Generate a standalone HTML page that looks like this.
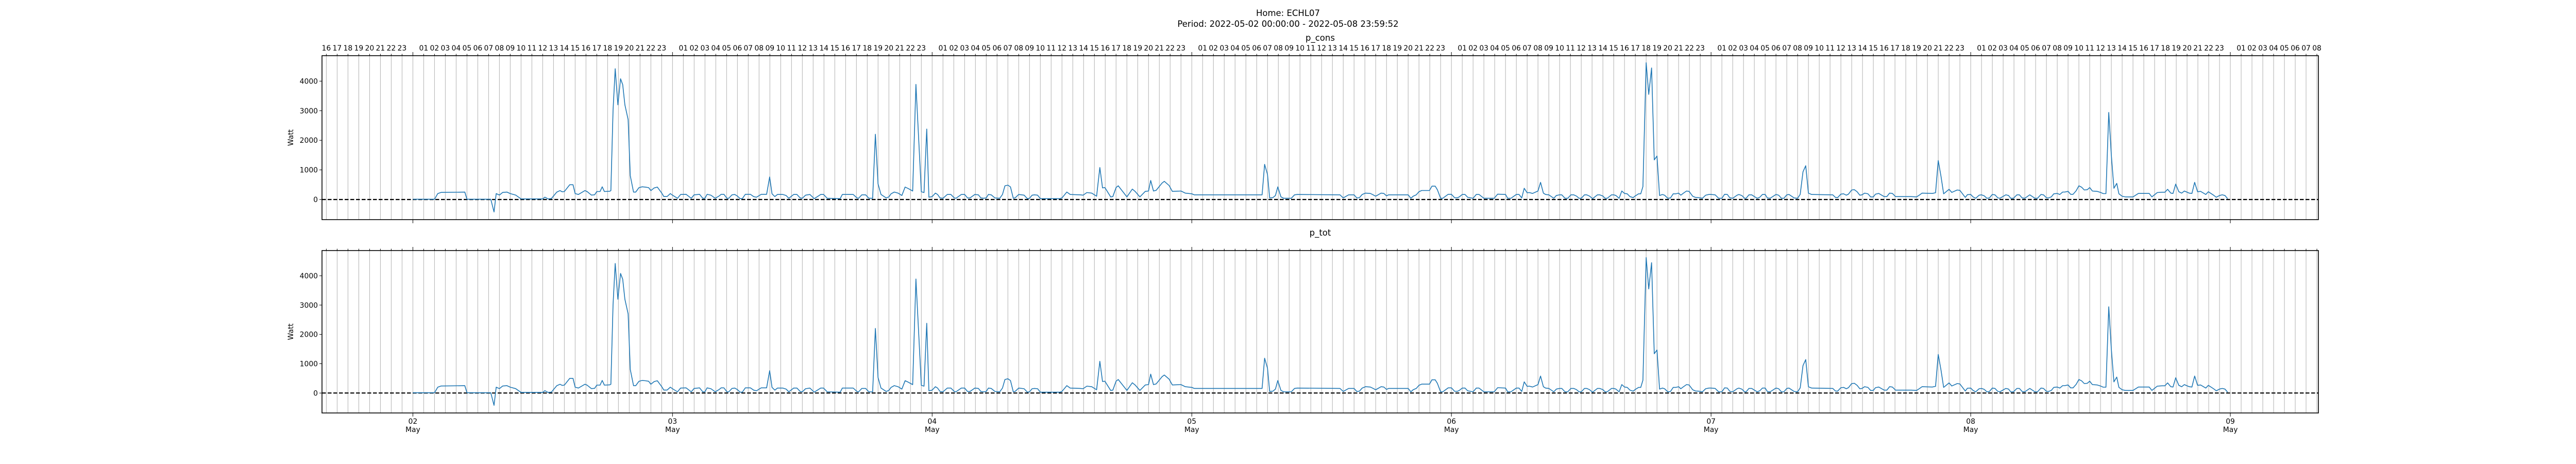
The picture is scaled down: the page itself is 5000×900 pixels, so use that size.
<!DOCTYPE html>
<html><head><meta charset="utf-8">
<style>
html,body{margin:0;padding:0;background:#fff;}
svg{display:block;font-family:"DejaVu Sans","Liberation Sans",sans-serif;}
</style></head>
<body>
<svg id="chart" width="5000" height="900" viewBox="0 0 5000 900" xmlns="http://www.w3.org/2000/svg">
<rect width="5000" height="900" fill="#fff"/>
<text x="2500" y="31" text-anchor="middle" font-size="16.5">Home: ECHL07</text>
<text x="2500" y="52" text-anchor="middle" font-size="16.5">Period: 2022-05-02 00:00:00 - 2022-05-08 23:59:52</text>
<g id="panels"></g>
</svg>
<script>
// data: [hour-of-day, watts] per day (02..08 May 2022)
const dayLabels = ["02","03","04","05","06","07","08","09"];
const yTicks = [0,1000,2000,3000,4000];
const panelTitles = ["p_cons","p_tot"];
const d02 = [[0,10],[2,10],[2.3,200],[2.6,240],[4.8,250],[5,10],[7.2,10],[7.5,-420],[7.7,200],[8,150],[8.3,240],[8.7,250],[9,200],[9.5,150],[10,20],[12,20],[12.2,80],[12.5,20],[12.8,30],[13.3,250],[13.6,300],[13.8,260],[14,270],[14.5,500],[14.8,500],[15,200],[15.3,170],[15.9,300],[16.1,270],[16.5,150],[16.8,160],[17,270],[17.3,270],[17.5,430],[17.7,270],[18.2,280],[18.3,300],[18.5,3000],[18.7,4420],[18.95,3200],[19.2,4080],[19.4,3880],[19.6,3200],[19.9,2700],[20.1,800],[20.4,250],[20.6,250],[20.9,400],[21.2,430],[21.5,420],[21.8,400],[22,300],[22.3,390],[22.6,420],[23,220],[23.2,100],[23.5,100],[23.8,200]];
const d03 = [[0,146],[0.46,41],[0.75,170],[1.25,176],[1.73,41],[2,158],[2.5,176],[2.8,41],[3,41],[3.2,176],[3.55,146],[3.95,41],[4.3,117],[4.5,176],[4.75,176],[5.03,41],[5.2,41],[5.5,158],[5.75,170],[6,117],[6.25,29],[6.45,29],[6.73,176],[7.2,176],[7.5,99],[7.76,76],[8.2,176],[8.7,176],[8.98,760],[9.2,193],[9.46,99],[9.7,170],[10.2,170],[10.5,135],[10.75,41],[11.2,170],[11.5,170],[11.8,53],[12,41],[12.3,146],[12.7,170],[13.1,29],[13.4,99],[13.7,170],[13.96,170],[14.3,41],[15.5,29],[15.7,170],[16.7,170],[17.05,53],[17.2,41],[17.5,158],[17.85,158],[18.15,41],[18.5,41],[18.75,2205],[19,527],[19.27,170],[19.75,53],[20,88],[20.2,193],[20.5,252],[20.85,216],[21.2,135],[21.5,421],[21.8,369],[22.2,287],[22.5,3890],[23,263],[23.25,234],[23.5,2381],[23.7,76]];
const d04 = [[0,99],[0.3,216],[0.5,170],[0.73,53],[1,41],[1.4,170],[1.73,170],[2.05,53],[2.2,41],[2.7,170],[3,170],[3.27,53],[3.5,53],[3.95,170],[4.27,158],[4.5,53],[4.75,41],[5,53],[5.2,170],[5.46,158],[5.8,53],[6.25,41],[6.5,170],[6.73,462],[7,486],[7.24,427],[7.5,41],[7.68,59],[8,170],[8.5,146],[8.8,29],[9,41],[9.24,146],[9.46,158],[9.75,146],[10,29],[11.8,29],[12,53],[12.45,252],[12.76,170],[13.7,158],[13.95,146],[14.3,234],[14.75,216],[15.2,111],[15.5,1082],[15.75,392],[15.97,404],[16.5,88],[16.7,99],[17,404],[17.2,462],[18,88],[18.5,351],[18.76,275],[19.2,88],[19.7,275],[20,287],[20.2,644],[20.46,287],[20.7,310],[21.25,556],[21.46,614],[21.9,474],[22.2,275],[23,287],[23.4,216]];
const d05 = [[0,193],[0.22,158],[6.5,158],[6.73,1188],[7,848],[7.2,53],[7.5,64],[7.73,135],[7.95,427],[8.24,88],[8.5,41],[9.2,41],[9.5,158],[9.75,170],[13.7,158],[14,53],[14.5,158],[15,158],[15.25,53],[15.5,64],[15.75,170],[16.05,216],[16.5,205],[16.7,170],[17,111],[17.5,216],[17.75,205],[18,123],[18.2,158],[20,158],[20.25,41],[20.46,111],[20.75,158],[21,263],[21.25,304],[21.97,304],[22.2,450],[22.5,450],[22.7,333],[23,41],[23.2,41],[23.7,176]];
const d06 = [[0,176],[0.3,59],[0.55,59],[0.73,88],[1,170],[1.25,170],[1.5,76],[2,41],[2.3,170],[2.55,170],[3,41],[3.95,41],[4.27,181],[5,170],[5.2,41],[5.5,41],[6,170],[6.25,170],[6.5,53],[6.73,380],[7,228],[7.2,234],[7.5,205],[8,287],[8.24,579],[8.5,216],[8.7,170],[9,158],[9.46,41],[9.7,135],[10,158],[10.2,158],[10.5,41],[10.75,41],[11.05,158],[11.3,158],[11.56,117],[11.8,41],[12,41],[12.3,158],[12.5,158],[12.76,117],[13.05,29],[13.5,158],[13.7,158],[14,117],[14.2,41],[14.4,41],[14.8,158],[15,158],[15.2,135],[15.5,41],[15.75,287],[16,205],[16.25,193],[16.5,99],[16.8,64],[17,123],[17.3,193],[17.5,193],[17.7,439],[18,4622],[18.24,3551],[18.5,4446],[18.75,1340],[19,1468],[19.24,135],[19.5,170],[19.7,146],[20,41],[20.25,53],[20.5,193],[20.75,193],[21,216],[21.2,146],[21.45,216],[21.73,287],[21.97,275],[22.3,111],[22.56,70],[22.84,64],[23.2,41],[23.5,146],[23.8,170]];
const d07 = [[0,170],[0.38,158],[0.7,41],[1,41],[1.25,176],[1.5,170],[1.73,59],[2,41],[2.4,146],[2.57,170],[2.84,135],[3.1,41],[3.24,41],[3.5,158],[3.76,158],[4,99],[4.27,41],[4.5,76],[4.75,170],[5,170],[5.2,53],[5.46,41],[6,170],[6.25,146],[6.5,41],[6.73,41],[7,158],[7.2,170],[7.68,53],[8,41],[8.24,176],[8.5,936],[8.75,1141],[9,216],[9.3,170],[11.25,158],[11.5,70],[11.7,64],[12,181],[12.25,193],[12.5,146],[12.7,181],[13,322],[13.24,333],[13.5,263],[13.75,146],[13.95,158],[14.2,216],[14.5,193],[14.75,88],[15,88],[15.2,181],[15.5,205],[16,99],[16.25,99],[16.5,216],[16.76,205],[17.05,99],[18.5,99],[19,88],[19.24,146],[19.5,216],[20.45,205],[20.75,228],[21,1316],[21.25,790],[21.5,193],[22,345],[22.25,240],[22.75,322],[23,310],[23.5,70],[23.7,164]];
const d08 = [[0,170],[0.22,88],[0.46,41],[0.78,146],[1,158],[1.25,123],[1.5,41],[1.73,53],[2,170],[2.24,158],[2.5,59],[2.7,41],[3.24,158],[3.5,135],[3.7,41],[3.95,41],[4.27,158],[4.5,158],[4.75,53],[5,41],[5.46,158],[5.94,41],[6.17,41],[6.5,170],[6.73,158],[7,59],[7.2,53],[7.45,88],[7.68,193],[8,205],[8.24,170],[8.5,252],[8.7,252],[9,275],[9.24,176],[9.46,176],[9.75,298],[10,462],[10.25,415],[10.5,322],[10.78,333],[11,404],[11.25,287],[11.7,275],[12,240],[12.25,199],[12.5,199],[12.76,2943],[13,1492],[13.24,380],[13.5,544],[13.7,193],[14,111],[14.3,88],[15,88],[15.5,205],[16.5,205],[16.75,88],[17.25,234],[17.7,246],[17.95,246],[18.2,345],[18.5,216],[18.7,205],[18.95,520],[19.24,263],[19.5,216],[19.75,287],[20.2,216],[20.45,205],[20.7,579],[20.97,263],[21.25,275],[21.73,170],[21.97,263],[22.45,146],[22.7,76],[23,135],[23.25,158],[23.5,135],[23.75,29]];
const days = [d02,d03,d04,d05,d06,d07,d08];

const NS = "http://www.w3.org/2000/svg";
const X0 = 625, X1 = 4500;
const hMin = -8.4, hMax = 176.14;
const yMin = -680, yMax = 4860;
const panels = [{top:108,bottom:426,title:panelTitles[0],showHourLabels:true},
                {top:486,bottom:801,title:panelTitles[1],showHourLabels:false}];
function xs(h){ return X0 + (h - hMin) / (hMax - hMin) * (X1 - X0); }
function mk(tag, attrs, parent){ const e=document.createElementNS(NS,tag); for(const k in attrs) e.setAttribute(k, attrs[k]); parent.appendChild(e); return e; }

const series = [];
days.forEach((d,i)=>d.forEach(p=>series.push([i*24+p[0], p[1]])));

const root = document.getElementById('panels');
panels.forEach((P, pi)=>{
  const ys = v => P.bottom - (v - yMin) / (yMax - yMin) * (P.bottom - P.top);
  const g = mk('g', {}, root);
  
  
  // hourly grid
  for(let h=-8; h<=176; h++){
    const x = xs(h);
    const gl = mk('line',{x1:x,x2:x,y1:P.top,y2:P.bottom,stroke:'#b0b0b0','stroke-width':1},g);
    
    
    const isDay = ((h%24)+24)%24===0;
    mk('line',{x1:x,x2:x,y1:P.top,y2:P.top-(isDay?7:3.5),stroke:'#000','stroke-width':1},g);
    if(isDay) mk('line',{x1:x,x2:x,y1:P.bottom,y2:P.bottom+7,stroke:'#000','stroke-width':1},g);
    if(P.showHourLabels && !isDay){
      const hh = ((h%24)+24)%24;
      const t = mk('text',{x:x,y:P.top-10,'text-anchor':'middle','font-size':13.9},g);
      t.textContent = (hh<10?'0':'')+hh;
      
      
    }
  }
  // zero line
  const z = mk('line',{x1:X0,x2:X1,y1:ys(0),y2:ys(0),stroke:'#000','stroke-width':2.2,'stroke-dasharray':'7.5,3.5'},g);
  
  
  // series line
  const d = series.map((p,i)=>(i?'L':'M')+xs(p[0]).toFixed(1)+','+ys(p[1]).toFixed(1)).join('');
  const path = mk('path',{d:d,fill:'none',stroke:'#1f77b4','stroke-width':1.6,'stroke-linejoin':'round'},g);
  
  
  // y ticks
  yTicks.forEach(v=>{
    const y = ys(v);
    mk('line',{x1:X0,x2:X0-5,y1:y,y2:y,stroke:'#000','stroke-width':1},g);
    const t = mk('text',{x:X0-8,y:y+5,'text-anchor':'end','font-size':13.9},g);
    t.textContent = v;
    
    
  });
  const yl = mk('text',{x:0,y:0,'text-anchor':'middle','font-size':13.9,transform:'translate(569,'+((P.top+P.bottom)/2)+') rotate(-90)'},g);
  yl.textContent = 'Watt';
  
  
  const tt = mk('text',{x:(X0+X1)/2,y:P.top-29,'text-anchor':'middle','font-size':16.5},g);
  tt.textContent = P.title;
  
  
  // frame
  const fr = mk('rect',{x:X0,y:P.top,width:X1-X0,height:P.bottom-P.top,fill:'none',stroke:'#000','stroke-width':1.6},g);
  
  
  if(pi===1){
    dayLabels.forEach((lab,i)=>{
      const x = xs(i*24);
      const t1 = mk('text',{x:x,y:P.bottom+21,'text-anchor':'middle','font-size':13.9},g);
      t1.textContent = lab;
      
      
      const t2 = mk('text',{x:x,y:P.bottom+37,'text-anchor':'middle','font-size':13.9},g);
      t2.textContent = 'May';
      
      
    });
  }
});
</script>
</body></html>
